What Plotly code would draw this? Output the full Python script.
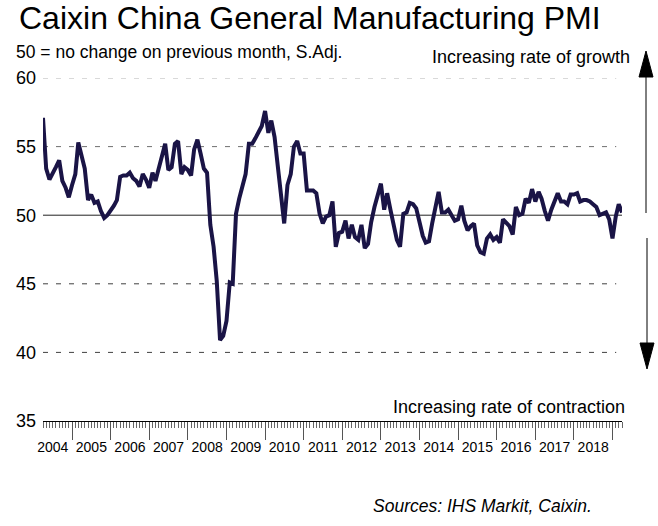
import pandas as pd
import plotly.graph_objects as go

# Caixin China General Manufacturing PMI, monthly, Apr 2004 - Apr 2019 (S.Adj.)
start_month = "2004-04-01"
pmi_2004 = [57.1, 53.4, 52.6, 53.0, 53.5, 54.0, 52.5, 52.0, 51.3]
pmi_2005 = [52.2, 53.0, 55.3, 54.3, 53.4, 51.1, 51.5, 50.9, 51.0, 50.3, 49.8, 50.0]
pmi_2006 = [50.3, 50.7, 51.1, 52.8, 52.9, 52.9, 53.1, 52.7, 52.5, 52.1, 53.0, 52.6]
pmi_2007 = [52.0, 53.1, 52.5, 53.5, 54.5, 55.2, 53.3, 53.5, 55.2, 55.4, 53.0, 53.5]
pmi_2008 = [53.3, 52.9, 54.8, 55.5, 54.5, 53.4, 53.1, 49.3, 47.7, 45.2, 40.9, 41.2]
pmi_2009 = [42.3, 45.1, 45.0, 50.1, 51.2, 52.2, 53.0, 55.2, 55.2, 55.6, 56.1, 56.5]
pmi_2010 = [57.6, 56.0, 56.9, 55.7, 53.6, 51.2, 49.4, 52.2, 53.0, 55.0, 55.4, 54.5]
pmi_2011 = [54.5, 51.8, 51.8, 51.8, 51.6, 50.1, 49.4, 49.9, 50.0, 51.0, 47.7, 48.7]
pmi_2012 = [48.8, 49.6, 48.3, 49.3, 48.4, 48.2, 49.3, 47.6, 47.9, 49.5, 50.6, 51.5]
pmi_2013 = [52.3, 50.4, 51.6, 50.4, 49.2, 48.2, 47.7, 50.1, 50.2, 50.9, 50.8, 50.5]
pmi_2014 = [49.5, 48.5, 48.0, 48.1, 49.4, 50.7, 51.7, 50.2, 50.2, 50.4, 50.0, 49.6]
pmi_2015 = [49.7, 50.7, 49.6, 48.9, 49.2, 49.4, 47.8, 47.3, 47.2, 48.3, 48.6, 48.2]
pmi_2016 = [48.4, 48.0, 49.7, 49.4, 49.2, 48.6, 50.6, 50.0, 50.1, 51.2, 50.9, 51.9]
pmi_2017 = [51.0, 51.7, 51.2, 50.3, 49.6, 50.4, 51.1, 51.6, 51.0, 51.0, 50.8, 51.5]
pmi_2018 = [51.5, 51.6, 51.0, 51.1, 51.1, 51.0, 50.8, 50.6, 50.0, 50.1, 50.2, 49.7]
pmi_2019 = [48.3, 49.9, 50.8, 50.2]

pmi = (pmi_2004 + pmi_2005 + pmi_2006 + pmi_2007 + pmi_2008 + pmi_2009 + pmi_2010
       + pmi_2011 + pmi_2012 + pmi_2013 + pmi_2014 + pmi_2015 + pmi_2016
       + pmi_2017 + pmi_2018 + pmi_2019)
months = pd.date_range(start_month, periods=len(pmi), freq="MS")

y_ticks = [35, 40, 45, 50, 55, 60]
dashed_levels = {60: "#b4b4b4", 55: "#707070", 45: "#404040", 40: "#404040"}

W, H = 658, 526
L, R, T, B = 43, 36, 78, 105
FONT = "Liberation Sans, Arial, sans-serif"


def px(x):
    return (x - L) / (W - L - R)


def py(y):
    return (H - B - y) / (H - T - B)


fig = go.Figure()

fig.add_trace(go.Scatter(
    x=months, y=pmi, mode="lines",
    line=dict(color="#1a1446", width=4),
    hoverinfo="x+y", showlegend=False,
))

shapes = []
for level, col in dashed_levels.items():
    shapes.append(dict(type="line", xref="paper", yref="y", x0=0, x1=0.99,
                       y0=level, y1=level, layer="below",
                       line=dict(color=col, width=1, dash="5px,8px")))
shapes.append(dict(type="line", xref="paper", yref="y", x0=0, x1=1, y0=50, y1=50,
                   layer="below", line=dict(color="#222222", width=1)))

# growth / contraction arrows on the right
shapes.append(dict(type="line", xref="paper", yref="paper", x0=px(646), x1=px(646),
                   y0=py(213), y1=py(72), line=dict(color="black", width=1)))
shapes.append(dict(type="path", xref="paper", yref="paper", fillcolor="black",
                   line=dict(color="black", width=1),
                   path=f"M {px(646)} {py(51)} L {px(639)} {py(77)} L {px(653)} {py(77)} Z"))
shapes.append(dict(type="line", xref="paper", yref="paper", x0=px(647), x1=px(647),
                   y0=py(238), y1=py(348), line=dict(color="black", width=1)))
shapes.append(dict(type="path", xref="paper", yref="paper", fillcolor="black",
                   line=dict(color="black", width=1),
                   path=f"M {px(647)} {py(369)} L {px(640)} {py(343)} L {px(654)} {py(343)} Z"))

annotations = [
    dict(text="Caixin China General Manufacturing PMI", x=px(17), y=py(18),
         xanchor="left", yanchor="middle", font=dict(size=32)),
    dict(text="50 = no change on previous month, S.Adj.", x=px(14), y=py(52),
         xanchor="left", yanchor="middle", font=dict(size=17.5)),
    dict(text="Increasing rate of growth", x=px(632), y=py(57),
         xanchor="right", yanchor="middle", font=dict(size=18)),
    dict(text="Increasing rate of contraction", x=px(627), y=py(419),
         xanchor="right", yanchor="bottom", font=dict(size=18)),
    dict(text="<i>Sources: IHS Markit, Caixin.</i>", x=px(594), y=py(506),
         xanchor="right", yanchor="middle", font=dict(size=17.5)),
]
for a in annotations:
    a.update(xref="paper", yref="paper", showarrow=False)
    a["font"].update(family=FONT, color="black")

fig.update_layout(
    width=W, height=H, autosize=False,
    margin=dict(l=L, r=R, t=T, b=B, autoexpand=False),
    paper_bgcolor="white", plot_bgcolor="white",
    font=dict(family=FONT, color="black"),
    shapes=shapes, annotations=annotations,
    xaxis=dict(
        type="date", range=[months[0], months[-1]],
        tick0="2004-01-01", dtick="M12", tickformat="%Y", ticklabelmode="period",
        ticks="outside", ticklen=18, tickwidth=1, tickcolor="#555555",
        ticklabelstandoff=-5,
        showline=True, linecolor="black", linewidth=1,
        showgrid=False, zeroline=False,
        minor=dict(dtick="M1", ticks="outside", ticklen=6, tickwidth=1,
                   tickcolor="#666666", showgrid=False),
        tickfont=dict(size=14, family=FONT, color="black"),
    ),
    yaxis=dict(
        range=[35, 60], tickvals=y_ticks, ticks="", ticklabelstandoff=6,
        showgrid=False, zeroline=False, showline=False,
        tickfont=dict(size=18, family=FONT, color="black"),
    ),
)

# drop the page's default 8px body margin so the figure fills the window
fig.write_html("out.html", config={"displayModeBar": False},
               post_script="document.body.style.margin='0';")
